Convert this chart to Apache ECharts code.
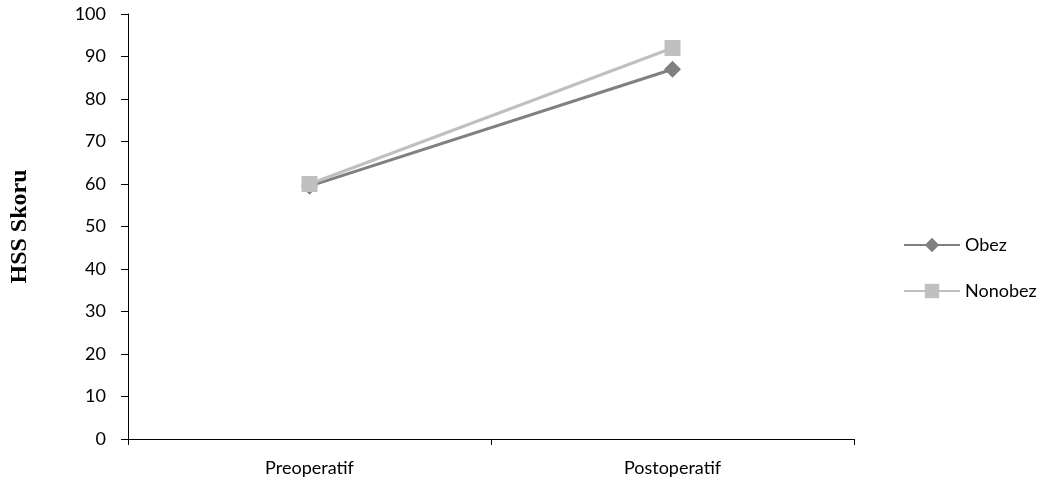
<!DOCTYPE html>
<html><head><meta charset="utf-8">
<script src="https://cdn.jsdelivr.net/npm/echarts@6/dist/echarts.min.js"></script>
<style>html,body{margin:0;padding:0;background:#fff}#c{width:1061px;height:490px}</style>
</head><body><div id="c"></div>
<script>
const categories = ["Preoperatif", "Postoperatif"];
const obez = [59.5, 87];
const nonobez = [60, 92];
const yTicks = [0, 10, 20, 30, 40, 50, 60, 70, 80, 90, 100];

const chart = echarts.init(document.getElementById('c'));
const font = 'Lato, "Open Sans", sans-serif';
chart.setOption({
  animation: false,
  backgroundColor: '#fff',
  grid: { left: 127, right: 207, top: 14, bottom: 51, containLabel: false },
  xAxis: {
    type: 'category', data: categories, boundaryGap: true,
    axisLine: { lineStyle: { color: '#000', width: 1 } },
    axisTick: { show: true, length: 6, lineStyle: { color: '#000' }, alignWithLabel: false },
    axisLabel: { color: '#000', fontSize: 18, fontFamily: font, margin: 20 }
  },
  yAxis: {
    type: 'value', min: yTicks[0], max: yTicks[yTicks.length - 1], interval: 10,
    name: 'HSS Skoru', nameLocation: 'middle', nameGap: 96,
    nameTextStyle: { fontFamily: '"Liberation Serif", "DejaVu Serif", serif', fontWeight: 'bold', fontSize: 24, color: '#000' },
    axisLine: { show: true, lineStyle: { color: '#000', width: 1 } },
    axisTick: { show: true, length: 7, lineStyle: { color: '#000' } },
    splitLine: { show: false },
    axisLabel: { color: '#000', fontSize: 18, fontFamily: font, margin: 22 }
  },
  legend: {
    orient: 'vertical', left: 903, top: 236, itemGap: 28, padding: 0,
    itemWidth: 56, itemHeight: 18,
    textStyle: { fontSize: 18, fontFamily: font, color: '#000' },
    data: ['Obez', 'Nonobez']
  },
  series: [
    {
      name: 'Obez', type: 'line', data: obez, symbol: 'diamond', symbolSize: 17,
      lineStyle: { color: '#808080', width: 3 }, itemStyle: { color: '#808080' }, z: 2
    },
    {
      name: 'Nonobez', type: 'line', data: nonobez, symbol: 'rect', symbolSize: 16,
      lineStyle: { color: '#c0c0c0', width: 3 }, itemStyle: { color: '#c0c0c0' }, z: 3
    }
  ]
});
</script></body></html>
